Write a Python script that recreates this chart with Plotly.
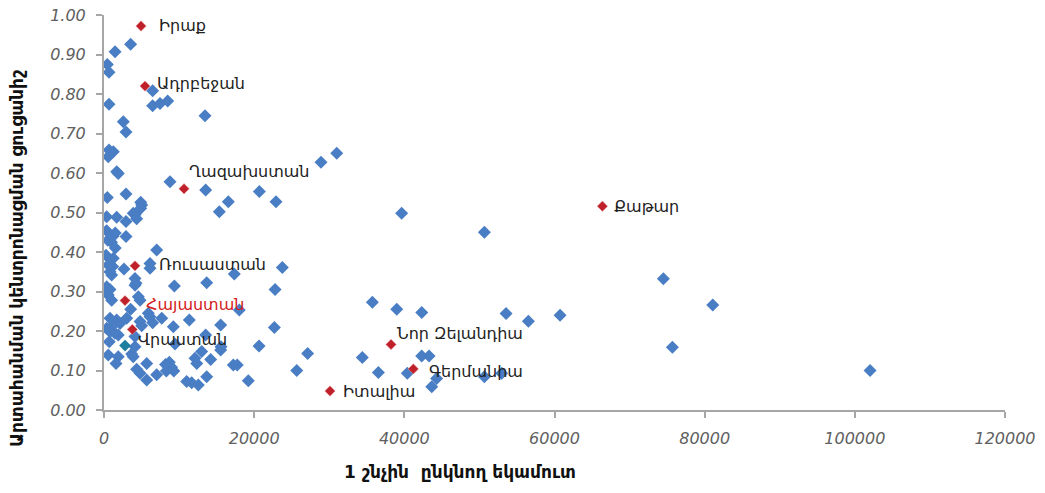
import plotly.graph_objects as go

# ---- data ----
blue_x = [3550, 1470, 440, 670, 6480, 6480, 7460, 8480, 670, 13450, 2570, 2930, 670, 1240, 570,
          1690, 1900, 8790, 13540, 20690, 22910, 16560, 15360, 28900, 31000, 440, 2930, 4890, 5020,
          4890, 3900, 360, 1690, 2930, 4130, 4350, 360, 1500, 1200, 500, 1000, 1500, 2930, 7020,
          270, 1240, 570, 1160, 800, 1020, 2660, 6130, 6130, 4130, 4260, 4130, 360, 800, 270, 570,
          1020, 4570, 4800, 9370, 13680, 17360, 23750, 22780, 18020, 3550, 5900, 6130, 3020, 800,
          1690, 2130, 1240, 360, 7690, 6480, 11360, 15540, 9230, 5020, 4800, 800, 1460, 1900, 4130,
          22690, 700, 4130, 9460, 13540, 15580, 20650, 13010, 15540, 27120, 570, 1900, 1600, 3690,
          3900, 5690, 4350, 4800, 5690, 7020, 8200, 9000, 8300, 9300, 8700, 12350, 12120, 14210,
          17220, 17750, 13680, 11010, 11680, 12560, 19220, 25670, 39640, 50660, 74500, 35740, 38990,
          42320, 53550, 56520, 60740, 75700, 34400, 42310, 43290, 36540, 40400, 44300, 43650, 50660,
          52970, 81080, 102030]
blue_y = [0.926, 0.907, 0.875, 0.855, 0.808, 0.770, 0.776, 0.782, 0.774, 0.745, 0.730, 0.704, 0.658,
          0.654, 0.641, 0.603, 0.599, 0.578, 0.557, 0.553, 0.527, 0.527, 0.502, 0.627, 0.650, 0.538,
          0.547, 0.526, 0.519, 0.511, 0.498, 0.489, 0.488, 0.477, 0.494, 0.484, 0.454, 0.448, 0.440,
          0.430, 0.425, 0.410, 0.439, 0.405, 0.392, 0.384, 0.367, 0.363, 0.350, 0.342, 0.357, 0.371,
          0.359, 0.333, 0.321, 0.316, 0.312, 0.305, 0.300, 0.291, 0.278, 0.287, 0.278, 0.314, 0.322,
          0.344, 0.361, 0.305, 0.253, 0.255, 0.245, 0.236, 0.232, 0.232, 0.228, 0.219, 0.215, 0.207,
          0.232, 0.221, 0.228, 0.215, 0.211, 0.213, 0.224, 0.198, 0.194, 0.190, 0.186, 0.209, 0.173,
          0.160, 0.167, 0.190, 0.160, 0.162, 0.148, 0.152, 0.143, 0.139, 0.135, 0.118, 0.142, 0.135,
          0.118, 0.103, 0.093, 0.076, 0.089, 0.115, 0.108, 0.099, 0.099, 0.121, 0.118, 0.131, 0.128,
          0.114, 0.114, 0.084, 0.072, 0.069, 0.063, 0.074, 0.100, 0.498, 0.450, 0.332, 0.273, 0.255,
          0.247, 0.244, 0.225, 0.240, 0.159, 0.133, 0.137, 0.137, 0.095, 0.093, 0.080, 0.059, 0.084,
          0.093, 0.266, 0.100]

red_names = ["Իրաք", "Ադրբեջան", "Ղազախստան", "Քաթար", "Ռուսաստան", "Հայաստան",
             "Վրաստան", "Նոր Զելանդիա", "Գերմանիա", "Իտալիա"]
red_x = [4930, 5460, 10660, 66380, 4130, 2800, 3770, 38230, 41200, 30100]
red_y = [0.972, 0.820, 0.560, 0.516, 0.365, 0.277, 0.204, 0.166, 0.104, 0.048]

teal_x = [2800]
teal_y = [0.163]

x_ticks = [0, 20000, 40000, 60000, 80000, 100000, 120000]
y_ticks = [0.0, 0.1, 0.2, 0.3, 0.4, 0.5, 0.6, 0.7, 0.8, 0.9, 1.0]

x_title = "1 շնչին  ընկնող եկամուտ"
y_title = "Արտահանման կենտրոնացման ցուցանիշ"

# ---- label placement (pixel offsets) ----
label_shift = {
    "Իրաք": (16, 1), "Ադրբեջան": (10, 3), "Ղազախստան": (3, 17), "Քաթար": (10, 0),
    "Ռուսաստան": (22, 1), "Հայաստան": (19, -4), "Վրաստան": (4, -10),
    "Նոր Զելանդիա": (4, 11), "Գերմանիա": (14, -3), "Իտալիա": (11, 0),
}

FONT = "DejaVu Sans"
fig = go.Figure()
fig.add_trace(go.Scatter(x=blue_x, y=blue_y, mode="markers",
                         marker=dict(symbol="diamond", size=10, color="#4A7EC4"),
                         showlegend=False, hoverinfo="x+y"))
fig.add_trace(go.Scatter(x=teal_x, y=teal_y, mode="markers",
                         marker=dict(symbol="diamond", size=9, color="#1E7F9E"),
                         showlegend=False))
fig.add_trace(go.Scatter(x=red_x, y=red_y, mode="markers",
                         marker=dict(symbol="diamond", size=8, color="#C0202A",
                                     line=dict(color="#E8A0A0", width=0.5)),
                         text=red_names, showlegend=False))

for name, xv, yv in zip(red_names, red_x, red_y):
    dx, dy = label_shift[name]
    fig.add_annotation(x=xv, y=yv, xref="x", yref="y", text=name, showarrow=False,
                       xanchor="left", yanchor="middle", xshift=dx, yshift=dy,
                       font=dict(family=FONT, size=16,
                                 color="#D42020" if name == "Հայաստան" else "#222222"))

fig.add_annotation(x=0.395, y=-0.157, xref="paper", yref="paper", text="<b>" + x_title + "</b>",
                   showarrow=False, xanchor="center", yanchor="middle",
                   font=dict(family=FONT, size=17, color="#111111"))
fig.add_annotation(x=-0.0966, y=0.385, xref="paper", yref="paper", text="<b>" + y_title + "</b>",
                   showarrow=False, xanchor="center", yanchor="middle", textangle=-90,
                   font=dict(family=FONT, size=17, color="#111111"))

axis_common = dict(showgrid=False, zeroline=False, showline=True, linecolor="#A6A6A6",
                   linewidth=2, ticks="outside", tickcolor="#A6A6A6", ticklen=6, tickwidth=1.5,
                   automargin=False, ticklabelstandoff=7, ticklabeloverflow="allow",
                   tickfont=dict(family=FONT, size=16, color="#606060", style="italic"))
fig.update_xaxes(range=[0, 120000], tickvals=x_ticks, ticktext=[str(v) for v in x_ticks],
                 **axis_common)
fig.update_yaxes(range=[0, 1.0], tickvals=y_ticks, ticktext=[f"{v:.2f}" for v in y_ticks],
                 **axis_common)

fig.update_layout(width=1045, height=493, margin=dict(l=104, r=40, t=15, b=83),
                  plot_bgcolor="white", paper_bgcolor="white")
# remove the page's default body margin so the figure sits at the window's corner
fig.write_html("out.html", config={"displayModeBar": False},
               post_script="document.body.style.margin='0';")
